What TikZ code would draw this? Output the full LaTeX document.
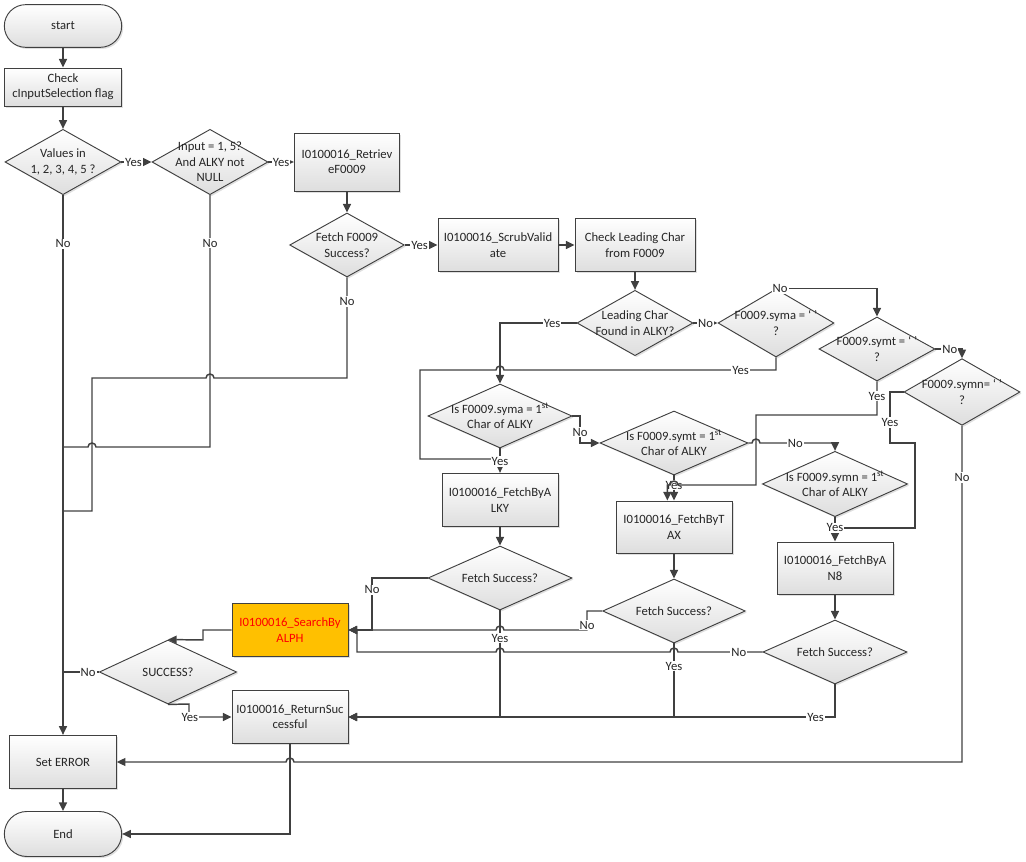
\documentclass[tikz,border=0pt]{standalone}
\usepackage{fontspec}
\setmainfont{Carlito}
\usetikzlibrary{shapes.geometric,shapes.misc,arrows.meta,shadows}
\definecolor{lnc}{HTML}{404040}
\definecolor{alphfill}{HTML}{FFC000}

\begin{document}
\begin{tikzpicture}[x=0.75pt,y=-0.75pt,
  every node/.style={font=\fontsize{9.5}{11.5}\selectfont, text=black!85},
  shp/.style={draw=lnc, line width=0.7pt, top color=white, bottom color=black!13,
    drop shadow={shadow xshift=1.2pt, shadow yshift=-1.2pt, opacity=0.25}},
  term/.style={shp, rounded rectangle, minimum width=88pt, minimum height=32pt, inner sep=0pt},
  box/.style={shp, rectangle, minimum width=87pt, minimum height=40pt, inner sep=0pt, align=center},
  dec/.style={shp, diamond, minimum width=87pt, minimum height=49pt, inner sep=0pt},
  dtxt/.style={align=center, inner sep=0pt},
  wire/.style={draw=lnc, line width=1.1pt},
  flow/.style={wire, -{Triangle[length=6.5pt,width=6pt]}},
  lbl/.style={fill=white, inner sep=0.8pt}]
\useasboundingbox (0,0) rectangle (1026,862);

\node[term] (start) at (63,26) {start};
\node[box, minimum width=88pt, minimum height=28.5pt] (chk) at (63,87) {Check\\cInputSelection flag};
\node[dec] (d1) at (63,162) {};
\node[dtxt] (d1t) at (d1) {Values in\\1, 2, 3, 4, 5 ?};
\node[dec] (d2) at (210,162) {};
\node[dtxt] (d2t) at (d2) {Input = 1, 5?\\And ALKY not\\NULL};
\node[box, minimum width=79pt, minimum height=43.5pt] (ret) at (347,162) {I0100016\_Retriev\\eF0009};
\node[dec, minimum width=86pt, minimum height=48pt] (d3) at (347,245) {};
\node[dtxt] (d3t) at (d3) {Fetch F0009\\Success?};
\node[box, minimum width=90pt] (scrub) at (498,245) {I0100016\_ScrubValid\\ate};
\node[box, minimum width=90pt] (lead) at (635,245) {Check Leading Char\\from F0009};
\node[dec] (d4) at (635,323) {};
\node[dtxt] (d4t) at (d4) {Leading Char\\Found in ALKY?};
\node[dec, minimum height=51pt] (ea) at (776,323) {};
\node[dtxt] (eat) at (ea) {F0009.syma = ‘ ’\\?};
\node[dec, minimum height=48pt] (et) at (877,349) {};
\node[dtxt] (ett) at (et) {F0009.symt = ‘ ’\\?};
\node[dec, minimum height=50pt] (en) at (962,392) {};
\node[dtxt] (ent) at (en) {F0009.symn= ‘ ’\\?};
\node[dec, minimum width=108pt, minimum height=48pt] (qa) at (500,416) {};
\node[dtxt] (qat) at (qa) {Is F0009.syma = 1\textsuperscript{st}\\Char of ALKY};
\node[dec, minimum width=111pt, minimum height=48pt] (qt) at (674,443) {};
\node[dtxt] (qtt) at (qt) {Is F0009.symt = 1\textsuperscript{st}\\Char of ALKY};
\node[dec, minimum width=109pt, minimum height=49pt] (qn) at (835,484) {};
\node[dtxt] (qnt) at (qn) {Is F0009.symn = 1\textsuperscript{st}\\Char of ALKY};
\node[box] (alky) at (500,500) {I0100016\_FetchByA\\LKY};
\node[box, minimum height=39pt] (tax) at (674,527) {I0100016\_FetchByT\\AX};
\node[box, minimum height=39pt] (an8) at (835,568) {I0100016\_FetchByA\\N8};
\node[dec, minimum width=108pt, minimum height=48pt] (fa) at (500,578) {};
\node[dtxt] (fat) at (fa) {Fetch Success?};
\node[dec, minimum width=107pt, minimum height=48pt] (ft) at (674,611) {};
\node[dtxt] (ftt) at (ft) {Fetch Success?};
\node[dec, minimum width=108pt, minimum height=48pt] (fn) at (835,652) {};
\node[dtxt] (fnt) at (fn) {Fetch Success?};
\node[box, top color=alphfill, bottom color=alphfill, text=red] (alph) at (290,630) {I0100016\_SearchBy\\ALPH};
\node[dec, minimum width=103pt, minimum height=48pt] (succ) at (168,672) {};
\node[dtxt] (succt) at (succ) {SUCCESS?};
\node[box] (rsucc) at (290,717) {I0100016\_ReturnSuc\\cessful};
\node[box, minimum width=80pt] (err) at (63,762) {Set ERROR};
\node[term, minimum height=33.75pt] (endn) at (63,834) {End};

\draw[flow] (start.south) -- (chk.north);
\draw[flow] (chk.south) -- (d1.north);
\draw[flow] (d1.east) -- node[lbl,pos=0.4]{Yes} (d2.west);
\draw[flow] (d2.east) -- node[lbl]{Yes} (ret.west);
\draw[flow] (ret.south) -- (d3.north);
\draw[flow] (d3.east) -- node[lbl,pos=0.45]{Yes} (scrub.west);
\draw[flow] (scrub.east) -- (lead.west);
\draw[flow] (lead.south) -- (d4.north);
\draw[flow] (d4.east) -- node[lbl]{No} (ea.west);
\draw[flow] (d1.south) -- node[lbl,pos=0.09]{No} (err.north);
\draw[wire] (d2.south) -- node[lbl,pos=0.19]{No} (210,447) -- (96,447)
  arc[start angle=0,end angle=180,radius=3pt] -- (d1.south |- 0,447);
\draw[wire] (d3.south) -- node[lbl,pos=0.24]{No} (347,378) -- (214,378)
  arc[start angle=0,end angle=180,radius=3pt] -- (92,378) -- (92,511) -- (d1.south |- 0,511);
\draw[flow] (d4.west) -- node[lbl,pos=0.32]{Yes} (qa.north |- d4.west) -- (qa.north);
\draw[flow] (ea.north) -| node[lbl,pos=0.02]{No} (et.north);
\draw[flow] (et.east) -| node[lbl,pos=0.27]{No} (en.north);
\draw[flow] (en.south) -- node[lbl,pos=0.154]{No} (en.south |- 0,762) -- (294,762)
  arc[start angle=0,end angle=180,radius=3pt] -- (err.east);
\draw[wire] (ea.south) -- (ea.south |- 0,370) -- node[lbl,pos=0.13]{Yes} (504,370)
  arc[start angle=0,end angle=180,radius=3pt] -- (420,370) -- (420,459) -- (qa.south |- 0,459);
\draw[flow] (qa.east) -- (580,416) -- node[lbl,pos=0.6]{No} (qt.west -| 580,0) -- (qt.west);
\draw[flow] (qa.south) -- node[lbl,pos=0.54]{Yes} (alky.north);
\draw[flow] (qt.east) -- (752,443) arc[start angle=180,end angle=0,radius=3pt]
  -- node[lbl,pos=0.47]{No} (qn.north |- qt.east) -- (qn.north);
\draw[flow] (qt.south) -- node[lbl,pos=0.38]{Yes} (tax.north);
\draw[flow] (et.south) -- node[lbl,pos=0.44]{Yes} (et.south |- 0,415) -- (756,415) -- (756,485)
  -- (678,485) arc[start angle=0,end angle=180,radius=3pt]
  -- ([xshift=-5pt]tax.north |- 0,485) -- ([xshift=-5pt]tax.north);
\draw[flow] (en.west) -- (890,392) -- node[lbl,pos=0.6]{Yes} (890,443) -- (915,443) -- (915,528)
  -- (qn.south |- 0,528);
\draw[flow] (qn.south) -- node[lbl,pos=0.44]{Yes} (an8.north);
\draw[flow] (alky.south) -- (fa.north);
\draw[flow] (tax.south) -- (ft.north);
\draw[flow] (an8.south) -- (fn.north);
\draw[flow] (fa.west) -- (372,578) -- node[lbl,pos=0.23]{No} (372,630) -- (alph.east);
\draw[flow] (ft.west) -- (587,611) -- node[lbl,pos=0.75]{No} (587,630) -- (504,630)
  arc[start angle=0,end angle=180,radius=3pt] -- (alph.east);
\draw[flow] (fn.west) -- node[lbl,pos=0.28]{No} (678,652) arc[start angle=0,end angle=180,radius=3pt]
  -- (504,652) arc[start angle=0,end angle=180,radius=3pt] -- (357,652) -- (357,630) -- (alph.east);
\draw[flow] (fa.south) -- node[lbl,pos=0.26]{Yes} (fa.south |- rsucc.east) -- (rsucc.east);
\draw[flow] (ft.south) -- node[lbl,pos=0.31]{Yes} (ft.south |- rsucc.east) -- (rsucc.east);
\draw[flow] (fn.south) -- (fn.south |- rsucc.east) -- node[lbl,pos=0.04]{Yes} (rsucc.east);
\draw[flow] (alph.west) -- (203,630) -- (203,640) -- (succ.north);
\draw[wire] (succ.west) -- node[lbl,pos=0.3]{No} (err.north |- succ.west);
\draw[flow] (succ.south) -- (189,704) -- (189,717) -- node[lbl,pos=0.02]{Yes} (rsucc.west);
\draw[flow] (rsucc.south) -- (rsucc.south |- endn.east) -- (endn.east);
\draw[flow] (err.south) -- (endn.north);
\end{tikzpicture}
\end{document}
